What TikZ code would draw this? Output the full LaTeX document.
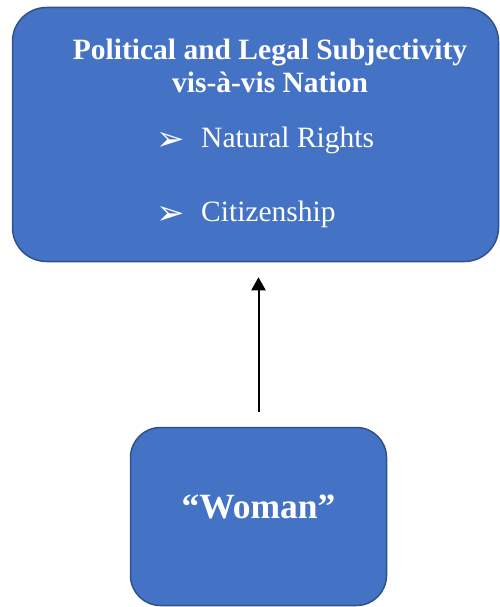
\documentclass[tikz,border=0pt]{standalone}
\usepackage{fontspec}
\setmainfont{Liberation Serif}
\newfontfamily\symfont{DejaVu Sans}
\usepackage{tikz}
\usetikzlibrary{arrows.meta, positioning}
\definecolor{boxfill}{HTML}{4472C4}
\definecolor{boxline}{HTML}{2F528F}
\tikzset{
    bluebox/.style={draw=boxline, fill=boxfill, line width=1.5pt, rounded corners=34pt, inner sep=0pt},
    whitetext/.style={text=white, inner sep=0pt}
}

\begin{document}
\begin{tikzpicture}[x=1pt, y=-1pt]
    \useasboundingbox (0,0) rectangle (500,607);
    \node[bluebox, minimum width=486pt, minimum height=254pt] (nation) at (255.5,134.5) {};
    \node[bluebox, rounded corners=30pt, minimum width=256pt, minimum height=178pt] (woman) at (258.5,516.5) {};
    \node[whitetext, anchor=base, align=center, font=\fontsize{29.5}{33.5}\selectfont\bfseries] (title) at (270,92.7) {Political and Legal Subjectivity\\vis-à-vis Nation};
    \foreach \y/\name/\txt in {147/rights/Natural Rights, 221/citizen/Citizenship}{
        \node[whitetext, anchor=base west, font=\fontsize{34}{36}\symfont] (\name-mark) at (156,\y+3) {➢};
        \node[whitetext, anchor=base west, font=\fontsize{29.5}{33}\selectfont] (\name) at (201,\y) {\txt};
    }
    \node[whitetext, anchor=base, font=\fontsize{35.5}{38}\selectfont\bfseries] (womantext) at (258.5,518) {“Woman”};
    \draw[-{Triangle[width=14pt, length=13pt]}, line width=2pt, shorten <=15pt, shorten >=15pt] (woman.north) -- (woman.north |- nation.south);
\end{tikzpicture}
\end{document}
